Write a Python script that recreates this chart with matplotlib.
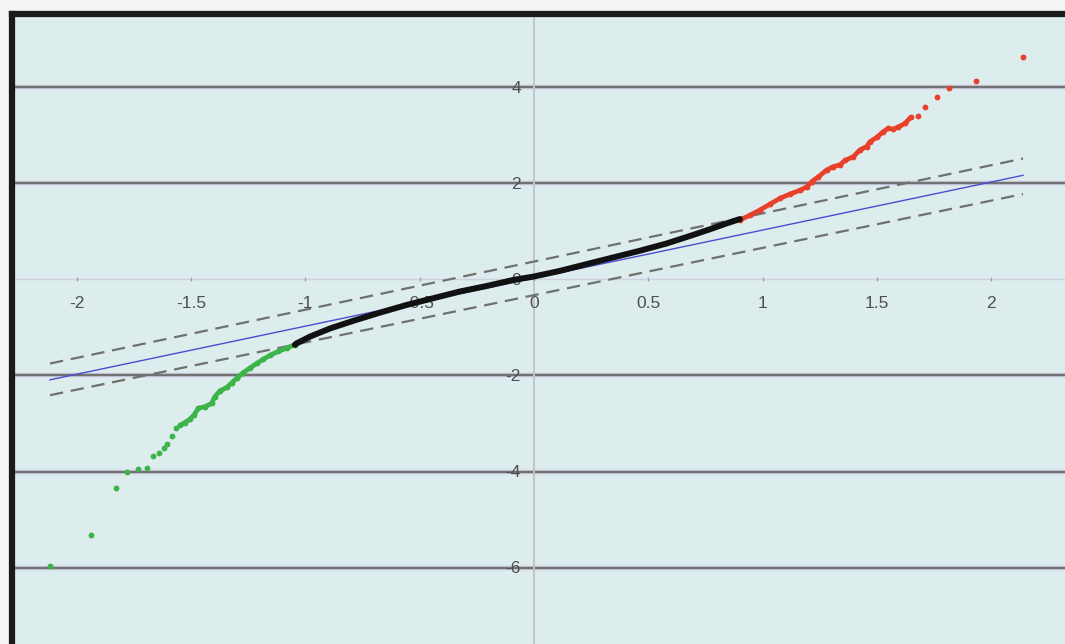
import matplotlib
matplotlib.use("Agg")
import matplotlib.pyplot as plt

# ---- data ----
green_x = [-2.117, -1.938, -1.829, -1.779, -1.732, -1.692, -1.665, -1.639, -1.619, -1.604,
           -1.582, -1.567, -1.549, -1.527, -1.505, -1.487, -1.468, -1.439, -1.410, -1.396,
           -1.374, -1.344, -1.322, -1.301, -1.272, -1.242, -1.213, -1.184, -1.155, -1.119,
           -1.082, -1.046]
green_y = [-5.97, -5.33, -4.34, -4.02, -3.95, -3.92, -3.68, -3.62, -3.51, -3.43,
           -3.26, -3.10, -3.04, -2.98, -2.91, -2.82, -2.68, -2.65, -2.58, -2.44,
           -2.32, -2.25, -2.15, -2.06, -1.94, -1.84, -1.75, -1.66, -1.58, -1.50,
           -1.43, -1.36]

black_x = [-1.046, -1.038, -0.980, -0.892, -0.790, -0.674, -0.557, -0.441, -0.324, -0.207,
           -0.091, -0.003, 0.114, 0.230, 0.347, 0.464, 0.580, 0.697, 0.784, 0.843, 0.901]
black_y = [-1.36, -1.33, -1.19, -1.02, -0.86, -0.69, -0.53, -0.39, -0.25, -0.135,
           -0.01, 0.06, 0.18, 0.32, 0.46, 0.60, 0.75, 0.93, 1.07, 1.17, 1.26]

red_x = [0.901, 0.945, 0.989, 1.032, 1.076, 1.120, 1.164, 1.193, 1.215, 1.244,
         1.280, 1.309, 1.339, 1.360, 1.397, 1.426, 1.455, 1.470, 1.499, 1.528,
         1.550, 1.572, 1.594, 1.623, 1.648, 1.681, 1.710, 1.762, 1.814, 1.934, 2.141]
red_y = [1.24, 1.34, 1.45, 1.57, 1.69, 1.78, 1.86, 1.93, 2.04, 2.14,
         2.28, 2.35, 2.39, 2.48, 2.56, 2.70, 2.77, 2.87, 2.96, 3.08,
         3.15, 3.13, 3.18, 3.25, 3.38, 3.41, 3.60, 3.81, 3.98, 4.14, 4.64]

ref_x = [-2.117, 2.139]
ref_y = [-2.09, 2.17]
upper_x = [-2.117, 2.139]
upper_y = [-1.75, 2.52]
lower_x = [-2.117, 2.139]
lower_y = [-2.41, 1.78]

x_ticks = [-2, -1.5, -1, -0.5, 0, 0.5, 1, 1.5, 2]
x_tick_labels = ["-2", "-1.5", "-1", "-0.5", "0", "0.5", "1", "1.5", "2"]
y_ticks = [4, 2, 0, -2, -4, -6]
y_tick_labels = ["4", "2", "0", "-2", "-4", "-6"]
grid_levels = [4, 2, -2, -4, -6]

# ---- figure ----
W, H = 1065, 644
fig = plt.figure(figsize=(W / 100, H / 100), dpi=100, facecolor="#f4f4f4")
left_px, top_px = 12, 14
ax = fig.add_axes([left_px / W, 0, (W - left_px) / W, (H - top_px) / H])
ax.set_facecolor("#ddeded")

# pixel mapping of the reference
x0_px, x_scale = 534.0, 228.6
y0_px, y_scale = 279.5, 48.0
ax.set_xlim((left_px - x0_px) / x_scale, (W - x0_px) / x_scale)
ax.set_ylim((y0_px - H) / y_scale, (y0_px - top_px) / y_scale)

for s in ["right", "bottom"]:
    ax.spines[s].set_visible(False)
for s in ["left", "top"]:
    ax.spines[s].set_color("#1a1a1a")
    ax.spines[s].set_linewidth(4.5)
ax.set_xticks([])
ax.set_yticks([])

# grid lines
for g in grid_levels:
    ax.axhline(g, color="#c9c9dd", lw=3.2, zorder=2)
    ax.axhline(g, color="#727272", lw=1.6, zorder=2)
ax.axhline(0, color="#cfcfe0", lw=1.0, zorder=2)
ax.axvline(0, color="#c4c4c4", lw=1.4, zorder=2)

# tick marks on zero line
ax.plot(x_ticks, [0] * len(x_ticks), linestyle="none", marker="|", markersize=3,
        color="#a0a0b0", zorder=2)

# tick labels
for xv, lab in zip(x_ticks, x_tick_labels):
    ax.annotate(lab, (xv, 0), xytext=(0, -17), textcoords="offset points",
                ha="center", va="center", fontsize=12.5, color="#4f4f4f",
                family="Liberation Sans", zorder=3)
for yv, lab in zip(y_ticks, y_tick_labels):
    ax.annotate(lab, (0, yv), xytext=(-9.5, -0.5), textcoords="offset points",
                ha="right", va="center", fontsize=12.5, color="#4f4f4f",
                family="Liberation Sans", zorder=3)

# reference line and bands
ax.plot(ref_x, ref_y, color="#4c4cd2", lw=1.0, zorder=3)
ax.plot(upper_x, upper_y, color="#707070", lw=1.6, dashes=(6, 3.5), zorder=3)
ax.plot(lower_x, lower_y, color="#707070", lw=1.6, dashes=(6, 3.5), zorder=3)

# data
green_c = "#3cb44a"
red_c = "#e8402a"
dense_g = [i for i, v in enumerate(green_x) if v > -1.56]
ax.plot([green_x[i] for i in dense_g], [green_y[i] for i in dense_g],
        color=green_c, lw=3.4, zorder=4, solid_capstyle="round")
ax.plot(green_x, green_y, linestyle="none", marker="o", markersize=4.2,
        color=green_c, markeredgewidth=0, zorder=4)

ax.plot(black_x, black_y, color="#111111", lw=4.3, zorder=5, solid_capstyle="round")

dense_r = [i for i, v in enumerate(red_x) if v < 1.66]
ax.plot([red_x[i] for i in dense_r], [red_y[i] for i in dense_r],
        color=red_c, lw=3.4, zorder=4, solid_capstyle="round")
ax.plot(red_x, red_y, linestyle="none", marker="o", markersize=4.2,
        color=red_c, markeredgewidth=0, zorder=4)

fig.savefig("out.png", dpi=100, facecolor=fig.get_facecolor())
